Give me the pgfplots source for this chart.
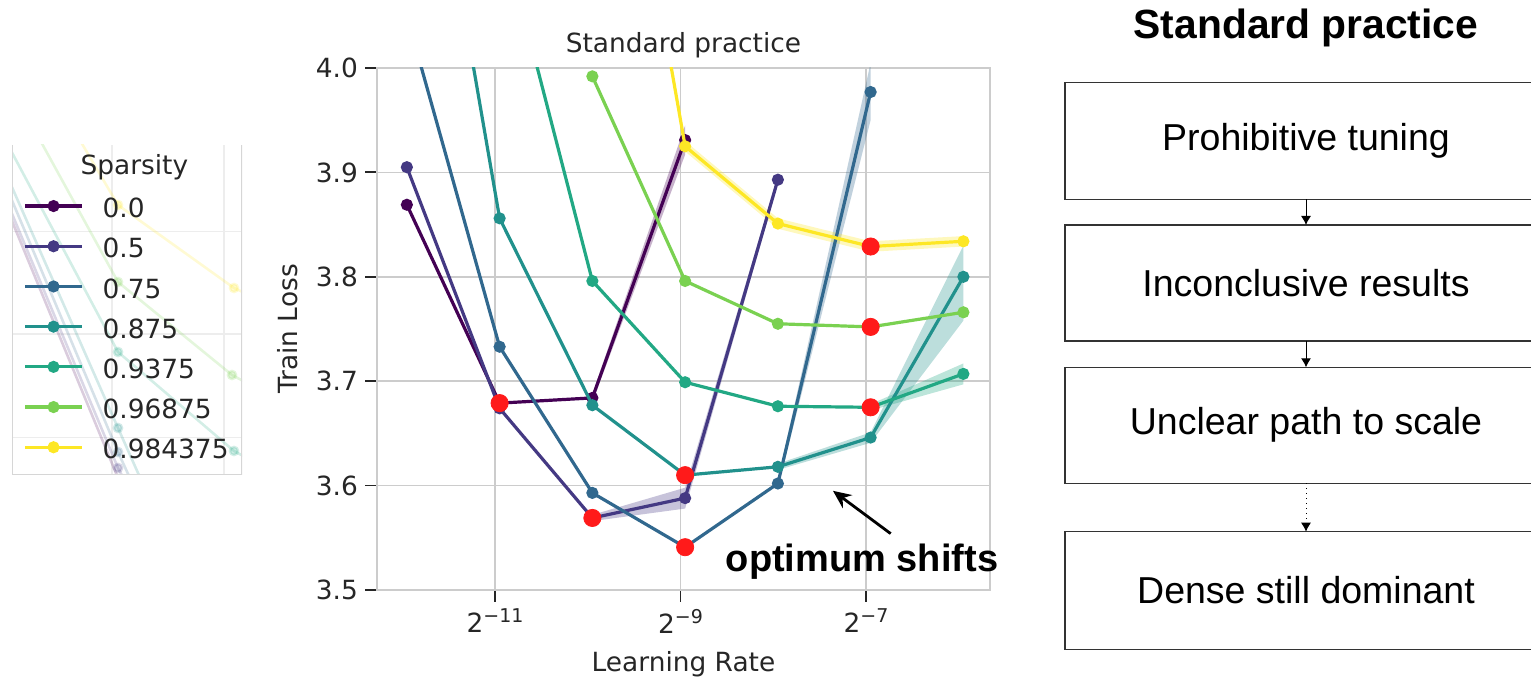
\documentclass[border=0pt]{standalone}
\usepackage{fontspec}
\setmainfont{DejaVu Sans}
\newfontfamily\helv{Liberation Sans}
\usepackage{pgfplots}
\pgfplotsset{compat=1.18}
\usetikzlibrary{arrows.meta}

% viridis steps, one per sparsity level
\definecolor{v0}{HTML}{440154}
\definecolor{v1}{HTML}{443983}
\definecolor{v2}{HTML}{31688E}
\definecolor{v3}{HTML}{21918C}
\definecolor{v4}{HTML}{22A884}
\definecolor{v5}{HTML}{7AD151}
\definecolor{v6}{HTML}{FDE725}
\definecolor{txt}{HTML}{262626}
\definecolor{optred}{HTML}{FF1A1A}

\newcommand{\pf}{\fontsize{13.2}{15.8}\selectfont}
\newcommand{\expo}[1]{\raisebox{5pt}{\fontsize{9.5}{10}\selectfont #1}}

\pgfplotsset{
  ser/.style={color=#1, line width=1.6pt, mark=*, mark size=2.2pt, mark options={solid}},
  band/.style={fill=#1, fill opacity=0.3, draw=none, forget plot},
  faint/.style={color=#1, opacity=0.2, line width=1.3pt, mark=*, mark size=2pt, forget plot},
}

\begin{document}
\begin{tikzpicture}
\useasboundingbox (0,0) rectangle (765.5pt,339pt);

% ---------- legend panel (neighbouring curves seen through it) ----------
\begin{axis}[
  at={(6pt,101.5pt)}, anchor=south west, scale only axis,
  width=115pt, height=165pt,
  xmin=12, xmax=242, ymin=-475, ymax=-145,
  axis line style={draw=none},
  xtick={112,224}, ytick={-437.7,-334,-231.7},
  xticklabels={}, yticklabels={}, major tick length=0pt,
  grid=major, grid style={black!7, line width=0.8pt},
  legend style={at={(rel axis cs:0.048,0.871)}, anchor=north west,
    draw=none, fill=none, inner sep=0pt, row sep=0pt,
    font=\pf, text=txt,
    nodes={inner xsep=0pt, inner ysep=0pt, text height=14.85pt, text depth=5.25pt},
    /tikz/every odd column/.append style={column sep=9.5pt}},
  legend cell align=left,
  legend image code/.code={
    \draw[mark repeat=2, mark phase=2, #1, yshift=1pt]
      plot coordinates {(0pt,0pt) (14.25pt,0pt) (28.5pt,0pt)};},
]
\addplot[faint=v6] coordinates {(68,-120) (118,-205) (234,-288) (260,-300)};
\addplot[faint=v5] coordinates {(29,-120) (118,-282) (232,-375) (260,-390)};
\addplot[faint=v4] coordinates {(0,-130) (118,-352) (234,-451) (260,-465)};
\addplot[faint=v3] coordinates {(0,-160) (118,-428) (150,-500)};
\addplot[faint=v2] coordinates {(0,-172) (118,-452) (140,-500)};
\addplot[faint=v1] coordinates {(0,-185) (118,-468) (135,-500)};
\addplot[faint=v0] coordinates {(0,-192) (118,-478) (130,-500)};
\draw[black!16, line width=0.8pt] (rel axis cs:0,1) -- (rel axis cs:0,0) -- (rel axis cs:1,0) -- (rel axis cs:1,1);
\node[font=\pf, text=txt] at (rel axis cs:0.532,0.932) {Sparsity};
\addlegendimage{ser=v0}\addlegendentry{0.0}
\addlegendimage{ser=v1}\addlegendentry{0.5}
\addlegendimage{ser=v2}\addlegendentry{0.75}
\addlegendimage{ser=v3}\addlegendentry{0.875}
\addlegendimage{ser=v4}\addlegendentry{0.9375}
\addlegendimage{ser=v5}\addlegendentry{0.96875}
\addlegendimage{ser=v6}\addlegendentry{0.984375}
\end{axis}

% ---------- learning-rate sweep ----------
\begin{axis}[
  at={(188.5pt,44pt)}, anchor=south west, scale only axis,
  width=306.5pt, height=261pt,
  xmin=-12.272, xmax=-5.663, ymin=3.5, ymax=4.0,
  xtick={-11,-9,-7},
  xticklabels={2\expo{−11}, 2\expo{−9}, 2\expo{−7}},
  ytick={3.5,3.6,3.7,3.8,3.9,4.0},
  yticklabels={3.5,3.6,3.7,3.8,3.9,4.0},
  tick align=outside, xtick pos=bottom, ytick pos=left,
  major tick length=6pt,
  tick style={txt, line width=0.9pt},
  ticklabel style={font=\pf, text=txt},
  axis line style={black!20, line width=0.8pt},
  grid=major, grid style={black!20, line width=0.8pt},
  title={Standard practice},
  title style={at={(axis description cs:0.5,1)}, anchor=base, yshift=2pt, font=\pf, text=txt},
  xlabel={Learning Rate},
  xlabel style={at={(axis description cs:0.5,0)}, anchor=base, yshift=-41pt, font=\pf, text=txt},
  ylabel={Train Loss},
  ylabel style={at={(axis description cs:-0.1305,0.5)}, anchor=base, rotate=0, font=\pf, text=txt},
  clip mode=individual,
]
% spread across seeds
\addplot[band=v0] coordinates {(-9.95,3.688) (-8.95,3.945) (-8.95,3.917) (-9.95,3.680)} -- cycle;
\addplot[band=v1] coordinates {(-9.95,3.572) (-8.95,3.598) (-7.95,3.897) (-7.95,3.889) (-8.95,3.578) (-9.95,3.566)} -- cycle;
\addplot[band=v2] coordinates {(-7.95,3.606) (-6.95,4.005) (-6.95,3.950) (-7.95,3.598)} -- cycle;
\addplot[band=v3] coordinates {(-7.95,3.621) (-6.95,3.651) (-5.95,3.830) (-5.95,3.758) (-6.95,3.641) (-7.95,3.615)} -- cycle;
\addplot[band=v4] coordinates {(-6.95,3.678) (-5.95,3.717) (-5.95,3.697) (-6.95,3.672)} -- cycle;
\addplot[band=v6] coordinates {(-8.95,3.930) (-7.95,3.856) (-6.95,3.834) (-5.95,3.839) (-5.95,3.829) (-6.95,3.824) (-7.95,3.846) (-8.95,3.920)} -- cycle;

% mean train loss per sparsity
\addplot[ser=v0] coordinates {(-11.95,3.869) (-10.95,3.679) (-9.95,3.684) (-8.95,3.931)};
\addplot[ser=v1] coordinates {(-11.95,3.905) (-10.95,3.674) (-9.95,3.569) (-8.95,3.588) (-7.95,3.893)};
\addplot[ser=v2] coordinates {(-11.95,4.05) (-10.95,3.733) (-9.95,3.593) (-8.95,3.541) (-7.95,3.602) (-6.95,3.977)};
\addplot[ser=v3] coordinates {(-11.95,4.37) (-10.95,3.856) (-9.95,3.677) (-8.95,3.610) (-7.95,3.618) (-6.95,3.646) (-5.95,3.800)};
\addplot[ser=v4] coordinates {(-10.95,4.14) (-9.95,3.796) (-8.95,3.699) (-7.95,3.676) (-6.95,3.675) (-5.95,3.707)};
\addplot[ser=v5] coordinates {(-9.95,3.992) (-8.95,3.796) (-7.95,3.755) (-6.95,3.752) (-5.95,3.766)};
\addplot[ser=v6] coordinates {(-9.95,4.43) (-8.95,3.925) (-7.95,3.851) (-6.95,3.829) (-5.95,3.834)};

% best learning rate of each sparsity
\addplot[only marks, mark=*, mark size=4.3pt, color=optred] coordinates {
  (-10.95,3.679) (-9.95,3.569) (-8.95,3.541) (-8.95,3.610)
  (-6.95,3.675) (-6.95,3.752) (-6.95,3.829)};

\draw[-{Stealth[length=9pt, width=8pt]}, line width=1.4pt] (axis cs:-6.734,3.554) -- (axis cs:-7.356,3.595);
\node[anchor=base, font=\helv\bfseries\fontsize{19}{22}\selectfont] at (axis cs:-7.043,3.518) {optimum shifts};
\end{axis}

% ---------- flow of the standard practice ----------
\node[font=\helv\bfseries\fontsize{20.4}{24}\selectfont] at (653pt,325pt) {Standard practice};
\begin{scope}[line width=0.75pt, draw=black!80]
\draw (532.5pt,239.35pt) rectangle (773.5pt,297.65pt);
\draw (532.5pt,168.5pt) rectangle (773.5pt,226.5pt);
\draw (532.5pt,97.35pt) rectangle (773.5pt,155.35pt);
\draw (532.5pt,14.35pt) rectangle (773.5pt,73.15pt);
\end{scope}
\begin{scope}[font=\helv\fontsize{18.75}{22}\selectfont]
\node at (653pt,268.5pt) {Prohibitive tuning};
\node at (653pt,197.5pt) {Inconclusive results};
\node at (653pt,126.35pt) {Unclear path to scale};
\node at (653pt,43.75pt) {Dense still dominant};
\end{scope}
\begin{scope}[line width=0.5pt, -{Latex[length=4.5pt, width=5pt]}]
\draw (653pt,239.35pt) -- (653pt,226.5pt);
\draw (653pt,168.5pt) -- (653pt,155.35pt);
\draw[dotted] (653pt,97.35pt) -- (653pt,73.15pt);
\end{scope}
\end{tikzpicture}
\end{document}
